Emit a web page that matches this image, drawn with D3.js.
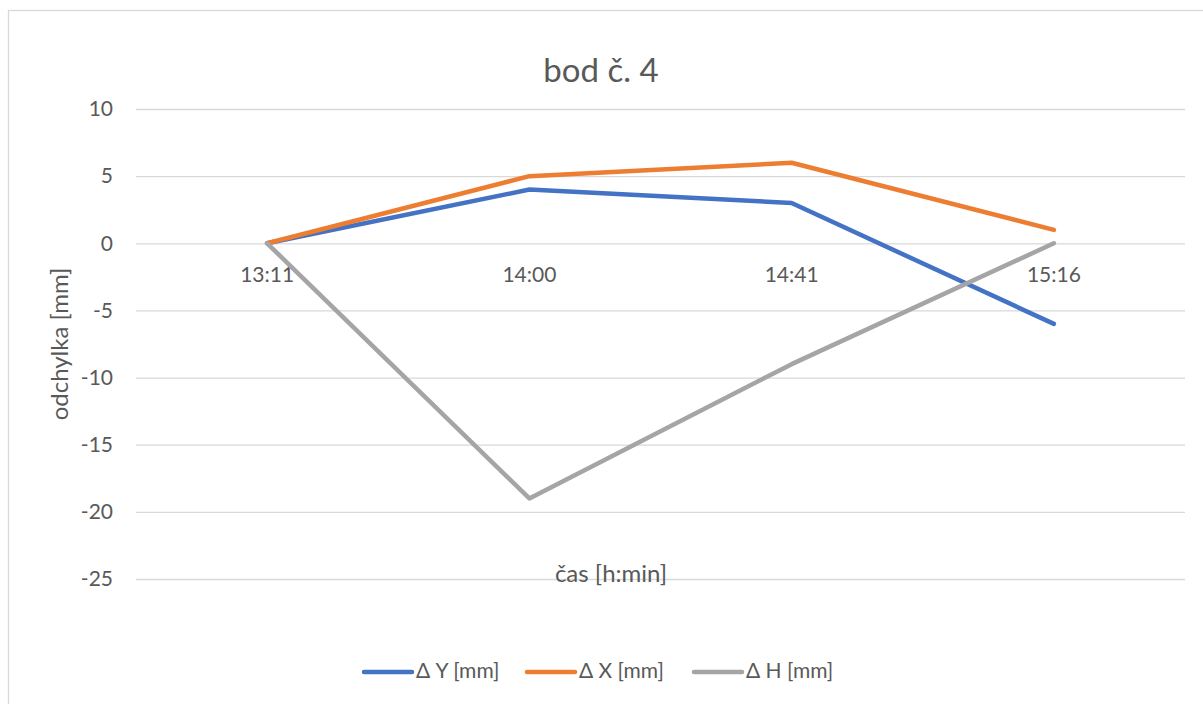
<!DOCTYPE html>
<html>
<head>
<meta charset="utf-8">
<script src="https://cdn.jsdelivr.net/npm/d3@7"></script>
<style>
  body { margin: 0; background: #fff; }
  text { font-family: Lato, "Open Sans", sans-serif; fill: #595959; }
</style>
</head>
<body>
<div id="chart"></div>
<script>
// categories (time of measurement)
const times = ["13:11", "14:00", "14:41", "15:16"];

// series values [mm]
const deltaY = [0, 4, 3, -6];
const deltaX = [0, 5, 6, 1];
const deltaH = [0, -19, -9, 0];

const yTicks = [10, 5, 0, -5, -10, -15, -20, -25];

const seriesNames = ["Δ Y [mm]", "Δ X [mm]", "Δ H [mm]"];
const seriesColors = ["#4472C4", "#ED7D31", "#A5A5A5"];

const W = 1203, H = 704;
const margin = { top: 109, right: 18, bottom: 125, left: 136 };
const width = W - margin.left - margin.right;
const height = H - margin.top - margin.bottom;
const fs = 21;

const svg = d3.select("#chart")
    .append("svg")
    .attr("width", W)
    .attr("height", H);

// chart frame
svg.append("rect")
    .attr("x", 8.5)
    .attr("y", 10.5)
    .attr("width", 1200)
    .attr("height", 700)
    .attr("fill", "none")
    .attr("stroke", "#D9D9D9")
    .attr("stroke-width", 1.3);

const g = svg.append("g")
    .attr("transform", `translate(${margin.left}, ${margin.top})`);

const x = d3.scaleBand()
    .domain(times)
    .range([0, width]);

const y = d3.scaleLinear()
    .domain([-25, 10])
    .range([height, 0]);

// gridlines + y labels
const yAxis = g.append("g")
    .call(d3.axisLeft(y).tickValues(yTicks).tickSize(-width).tickPadding(23));
yAxis.select(".domain").remove();
yAxis.selectAll(".tick line").attr("stroke", "#D9D9D9").attr("stroke-width", 1.3);
yAxis.selectAll(".tick text").style("font-size", fs + "px").text(d => d < 0 ? "-" + Math.abs(d) : d);

// category labels sit below the zero line
const xAxis = g.append("g")
    .attr("transform", `translate(0, ${y(0)})`)
    .call(d3.axisBottom(x).tickSize(0).tickPadding(24));
xAxis.select(".domain").remove();
xAxis.selectAll(".tick text").style("font-size", fs + "px");

// lines
const series = [deltaY, deltaX, deltaH];
const line = d3.line()
    .x((d, i) => x(times[i]) + x.bandwidth() / 2)
    .y(d => y(d));

series.forEach((vals, k) => {
    g.append("path")
        .datum(vals)
        .attr("fill", "none")
        .attr("stroke", seriesColors[k])
        .attr("stroke-width", 4.5)
        .attr("stroke-linecap", "round")
        .attr("stroke-linejoin", "round")
        .attr("d", line);
});

// title
svg.append("text")
    .attr("x", 601)
    .attr("y", 82)
    .attr("text-anchor", "middle")
    .style("font-size", "33px")
    .text("bod č. 4");

// axis titles
svg.append("text")
    .attr("transform", "translate(68, 344) rotate(-90)")
    .attr("text-anchor", "middle")
    .style("font-size", "24px")
    .text("odchylka [mm]");

svg.append("text")
    .attr("x", 611)
    .attr("y", 582)
    .attr("text-anchor", "middle")
    .style("font-size", "24px")
    .text("čas [h:min]");

// legend
const legendX = [362, 525, 692];
seriesNames.forEach((name, k) => {
    const row = svg.append("g")
        .attr("transform", `translate(${legendX[k]}, 672)`);
    row.append("line")
        .attr("x1", 2).attr("x2", 50)
        .attr("y1", 0).attr("y2", 0)
        .attr("stroke", seriesColors[k])
        .attr("stroke-width", 4.5)
        .attr("stroke-linecap", "round");
    row.append("text")
        .attr("x", 54)
        .attr("y", 6)
        .style("font-size", fs + "px")
        .text(name);
});
</script>
</body>
</html>
